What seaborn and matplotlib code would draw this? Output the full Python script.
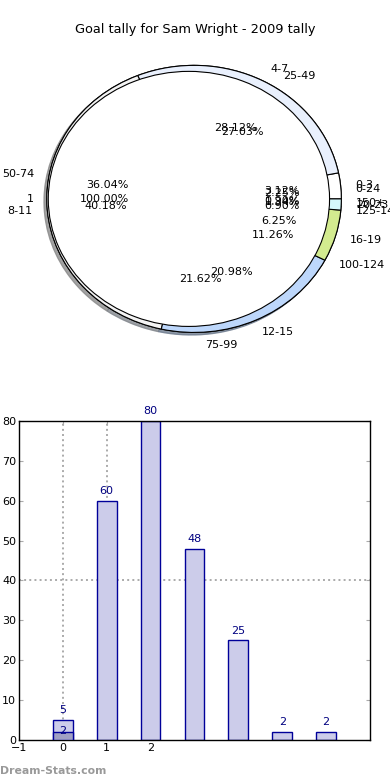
import numpy as np
import pandas as pd
import seaborn as sns
import matplotlib.pyplot as plt

# Goal tally data
goal_labels = ['0-3', '4-7', '8-11', '12-15', '16-19', '20-23']
goal_counts = [7, 63, 90, 47, 14, 3]
goal_colors = ['#ffffff', '#e9f0fd', '#f4f4f4', '#bdd7fb', '#d3eb8f', '#d5f7fb']

minute_labels = ['0-24', '25-49', '50-74', '75-99', '100-124', '125-149', '150+']
minute_counts = [5, 60, 80, 48, 25, 2, 2]
minute_colors = ['#ffffff', '#e4ecfb', '#eeeeee', '#b8d2f8', '#cde69a', '#d0f4fa', '#e0e0e0']

inner_labels = ['1']
inner_counts = [1]

# bar chart data
bar_labels = minute_labels
bar_values = minute_counts
overlay_labels = ['0-24']
overlay_values = [2]

fig = plt.figure(figsize=(3.9, 7.8), dpi=100)

# Pie part
ax1 = fig.add_axes([0.0256, 0.531, 0.944, 0.428])
wp = {'edgecolor': 'black', 'linewidth': 0.8}
shadow_kw = {'ox': -0.014, 'oy': -0.014, 'shade': 0.45}
ax1.pie(minute_counts, labels=minute_labels, colors=minute_colors, autopct='%.2f%%',
        shadow=shadow_kw, wedgeprops=wp, textprops={'fontsize': 8})
ax1.pie(goal_counts, labels=goal_labels, colors=goal_colors, autopct='%.2f%%',
        shadow=shadow_kw, wedgeprops=wp, textprops={'fontsize': 8})
ax1.pie(inner_counts, labels=inner_labels, colors=['white'], autopct='%.2f%%',
        radius=0.955, center=(-0.035, 0), startangle=0,
        wedgeprops={'edgecolor': 'black', 'linewidth': 0.8, 'zorder': 2},
        textprops={'fontsize': 8})
ax1.set_xlim(-1.25, 1.25)
ax1.set_ylim(-1.25, 1.25)
ax1.set_aspect('auto')
ax1.axis('off')

fig.text(0.5, 1 - 30 / 780, 'Goal tally for Sam Wright - 2009 tally', ha='center', va='center', fontsize=9.3)

# Bar part
ax2 = fig.add_axes([0.0487, 0.0513, 0.9, 0.409])
df_bar = pd.DataFrame({'range': bar_labels, 'count': bar_values})
df_over = pd.DataFrame({'range': overlay_labels, 'count': overlay_values})
sns.barplot(data=df_bar, x='range', y='count', order=bar_labels, width=0.45, color='#ccccea',
            edgecolor='#000099', linewidth=1, saturation=1, ax=ax2, zorder=2)
sns.barplot(data=df_over, x='range', y='count', order=bar_labels, width=0.45, color='#a0a0c4',
            edgecolor='#000099', linewidth=1, saturation=1, ax=ax2, zorder=3)

for i, v in enumerate(bar_values):
    ax2.text(i, v + 1.2, str(v), ha='center', va='bottom', color='#000080', fontsize=8, zorder=4)
for lab, v in zip(overlay_labels, overlay_values):
    ax2.text(bar_labels.index(lab), v + 0.3, str(v), ha='center', va='center', color='#000080', fontsize=8, zorder=4)

# dotted guide lines
for gx in [0, 1, 2]:
    ax2.axvline(gx, color='#aaaaaa', linestyle=':', linewidth=1.4, zorder=1)
ax2.axhline(40, color='#aaaaaa', linestyle=':', linewidth=1.4, zorder=1)

ax2.set_xlim(-1, 7)
ax2.set_ylim(0, 80)
ax2.set_xticks([-1, 0, 1, 2])
ax2.set_xticklabels(['\u22121', '0', '1', '2'])
ax2.set_yticks(range(0, 81, 10))
ax2.set_xlabel('')
ax2.set_ylabel('')
ax2.tick_params(direction='in', right=True, top=True, length=3, color='#aaaaaa', labelsize=8, pad=2)
for s in ax2.spines.values():
    s.set_linewidth(1)
    s.set_color('black')

fig.text(0.0, 1 - 771 / 780, 'Dream-Stats.com', ha='left', va='center', color='#999999',
         fontsize=7.8, fontweight='bold')

fig.savefig('out.png', dpi=100)
